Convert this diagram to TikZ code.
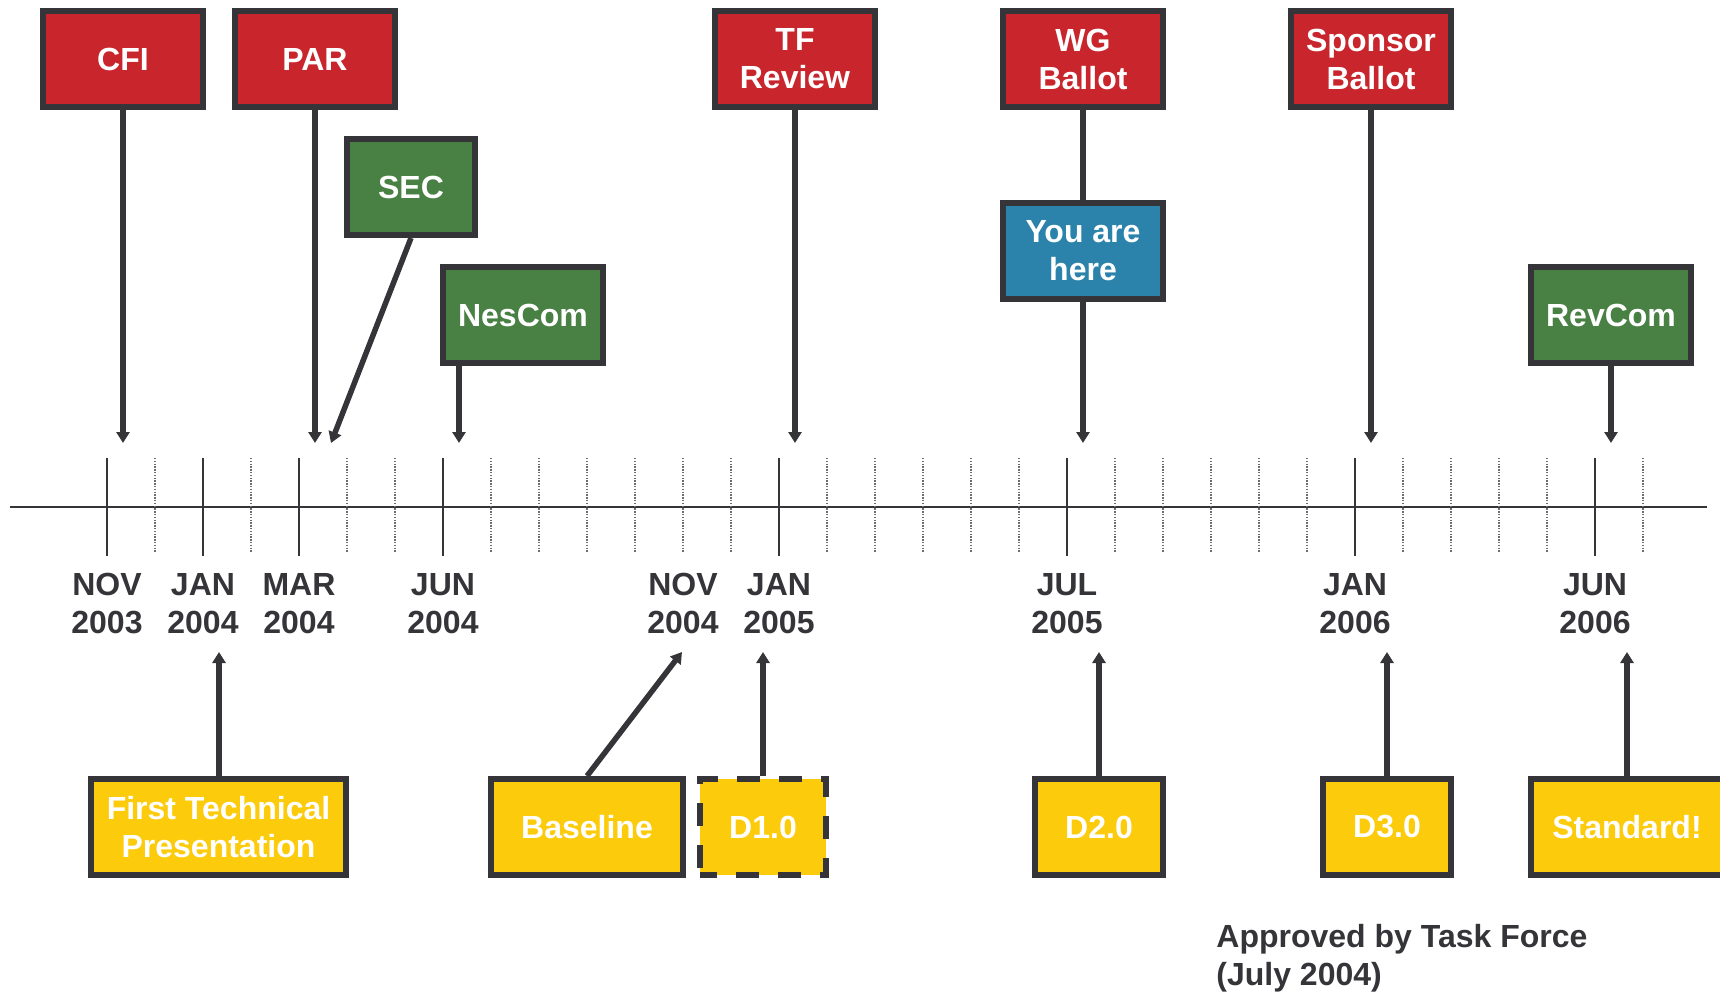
\documentclass[tikz,border=0pt]{standalone}
\usepackage{fontspec}
\setmainfont{Liberation Sans}
\usetikzlibrary{arrows.meta}
\definecolor{boxred}{RGB}{200,37,45}
\definecolor{boxgreen}{RGB}{73,128,68}
\definecolor{boxblue}{RGB}{43,131,171}
\definecolor{boxyellow}{RGB}{252,203,11}
\definecolor{ink}{RGB}{53,52,56}
\definecolor{tickgray}{RGB}{110,110,110}
\begin{document}
\begin{tikzpicture}[x=0.5pt,y=-0.5pt,
  lbl/.style={font=\fontsize{16pt}{19pt}\selectfont\bfseries, align=center},
  milestone/.style={lbl, draw=ink, line width=3pt, text=white, inner sep=0pt,
    minimum height=48pt, minimum width=80pt},
  redbox/.style={milestone, fill=boxred},
  greenbox/.style={milestone, fill=boxgreen},
  bluebox/.style={milestone, fill=boxblue},
  yellowbox/.style={milestone, fill=boxyellow},
  datelbl/.style={lbl, text=ink, inner sep=0pt},
  pointer/.style={draw=ink, line width=2.75pt, -{Triangle[length=5.5pt,width=6.5pt]}},
  joinline/.style={draw=ink, line width=2.75pt},
  axisline/.style={draw=ink, line width=1pt},
  majortick/.style={draw=ink, line width=1pt},
  minortick/.style={draw=tickgray, line width=1pt, dash pattern=on 0.7pt off 0.7pt},
]
\clip (0,0) rectangle (1720,995);

% axis and ticks
\draw[axisline] (10,507) -- (1707,507);
\foreach \i in {0,2,4,7,14,20,26,31}
  \draw[majortick] (107+48*\i,458) -- (107+48*\i,556);
\foreach \i in {1,3,5,6,8,9,10,11,12,13,15,16,17,18,19,21,22,23,24,25,27,28,29,30,32}
  \draw[minortick] (107+48*\i,458) -- (107+48*\i,552);

% date labels
\node[datelbl] (d1) at (107,603.5) {NOV\\2003};
\node[datelbl] (d2) at (203,603.5) {JAN\\2004};
\node[datelbl] (d3) at (299,603.5) {MAR\\2004};
\node[datelbl] (d4) at (443,603.5) {JUN\\2004};
\node[datelbl] (d5) at (683,603.5) {NOV\\2004};
\node[datelbl] (d6) at (779,603.5) {JAN\\2005};
\node[datelbl] (d7) at (1067,603.5) {JUL\\2005};
\node[datelbl] (d8) at (1355,603.5) {JAN\\2006};
\node[datelbl] (d9) at (1595,603.5) {JUN\\2006};

% upper milestones
\node[redbox] (cfi) at (123,59) {CFI};
\node[redbox] (par) at (315,59) {PAR};
\node[greenbox, minimum width=64pt] (sec) at (411,187) {SEC};
\node[greenbox] (nescom) at (523,315) {NesCom};
\node[redbox] (tf) at (795,59) {TF\\Review};
\node[redbox] (wg) at (1083,59) {WG\\Ballot};
\node[bluebox] (here) at (1083,251) {You are\\here};
\node[redbox] (sponsor) at (1371,59) {Sponsor\\Ballot};
\node[greenbox] (revcom) at (1611,315) {RevCom};

\coordinate (cfitip) at (123,443);
\coordinate (partip) at (315,443);
\coordinate (sectip) at (331,443);
\coordinate (nestip) at (459,443);
\coordinate (tftip) at (795,443);
\coordinate (heretip) at (1083,443);
\coordinate (sptip) at (1371,443);
\coordinate (revtip) at (1611,443);

\draw[pointer] (cfi.south) -- (cfitip);
\draw[pointer] (par.south) -- (partip);
\draw[pointer] (sec.south) -- (sectip);
\draw[pointer] (nescom.south -| nestip) -- (nestip);
\draw[pointer] (tf.south) -- (tftip);
\draw[joinline] (wg.south) -- (here.north);
\draw[pointer] (here.south) -- (heretip);
\draw[pointer] (sponsor.south) -- (sptip);
\draw[pointer] (revcom.south) -- (revtip);

% lower milestones
\node[yellowbox, minimum width=127.5pt] (ftp) at (218.5,827) {First Technical\\Presentation};
\node[yellowbox, minimum width=96pt] (base) at (587,827) {Baseline};
\node[yellowbox, minimum width=63pt, dash pattern=on 11.5pt off 9.5pt, dash phase=3pt] (done) at (763,827) {D1.0};
\node[yellowbox, minimum width=64pt] (dtwo) at (1099,827) {D2.0};
\node[yellowbox, minimum width=64pt] (dthree) at (1387,827) {D3.0};
\node[yellowbox, minimum width=96pt] (std) at (1627,827) {Standard!};

\coordinate (ftptip) at (219,652);
\coordinate (basetip) at (682,652);
\coordinate (donetip) at (763,652);
\coordinate (dtwotip) at (1099,652);
\coordinate (dthreetip) at (1387,652);
\coordinate (stdtip) at (1627,652);

\draw[pointer] (ftp.north -| ftptip) -- (ftptip);
\draw[pointer] (base.north) -- (basetip);
\draw[pointer] (done.north) -- (donetip);
\draw[pointer] (dtwo.north) -- (dtwotip);
\draw[pointer] (dthree.north) -- (dthreetip);
\draw[pointer] (std.north) -- (stdtip);

\node[lbl, align=left, text=ink, anchor=north west, inner sep=0pt] (approved) at (1216,924)
  {Approved by Task Force\\(July 2004)};
\end{tikzpicture}
\end{document}
